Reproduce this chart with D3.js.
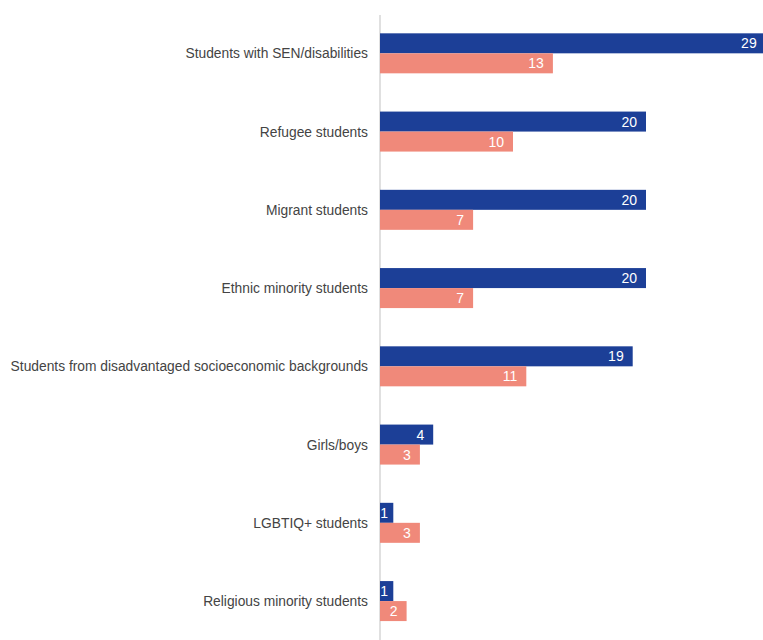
<!DOCTYPE html>
<html>
<head>
<meta charset="utf-8">
<script src="https://cdn.jsdelivr.net/npm/d3@7"></script>
<style>
  body { margin: 0; background: #ffffff; }
  #bar-chart-div { width: 763px; height: 640px; overflow: hidden; }
</style>
</head>
<body>
<div id="bar-chart-div"></div>
<script>
const categories = [
  'Students with SEN/disabilities',
  'Refugee students',
  'Migrant students',
  'Ethnic minority students',
  'Students from disadvantaged socioeconomic backgrounds',
  'Girls/boys',
  'LGBTIQ+ students',
  'Religious minority students'
];
const blueValues = [29, 20, 20, 20, 19, 4, 1, 1];
const salmonValues = [13, 10, 7, 7, 11, 3, 3, 2];

function createBarChart() {
  const width = 763;
  const height = 640;
  const barHeight = 20;

  const svg = d3.select('#bar-chart-div')
    .append('svg')
    .attr('width', width)
    .attr('height', height)
    .style('background-color', '#ffffff');

  // --- Scales ---
  const x = d3.scaleLinear()
    .domain([0, 30])
    .range([380, 779]);

  const y = d3.scaleBand()
    .domain(categories)
    .range([14.2, 640.2])
    .padding(0);

  const rows = categories.map((c, i) => ({
    name: c,
    blue: blueValues[i],
    salmon: salmonValues[i]
  }));

  // --- Axis line ---
  svg.append('line')
    .attr('x1', x(0)).attr('x2', x(0))
    .attr('y1', 15).attr('y2', height)
    .attr('stroke', '#d6d6d6')
    .attr('stroke-width', 1.5);

  const center = d => y(d.name) + y.bandwidth() / 2;

  // --- Bars ---
  const series = [
    { key: 'blue', color: '#1c3f97', offset: -barHeight },
    { key: 'salmon', color: '#f0897a', offset: 0 }
  ];

  series.forEach(s => {
    svg.selectAll(`.bar-${s.key}`)
      .data(rows)
      .enter().append('rect')
      .attr('class', `bar-${s.key}`)
      .attr('x', x(0))
      .attr('y', d => center(d) + s.offset)
      .attr('width', d => x(d[s.key]) - x(0))
      .attr('height', barHeight)
      .attr('fill', s.color);

    svg.selectAll(`.val-${s.key}`)
      .data(rows)
      .enter().append('text')
      .attr('class', `val-${s.key}`)
      .attr('x', d => Math.max(x(d[s.key]) - 9, x(0) + 8))
      .attr('y', d => center(d) + s.offset + barHeight / 2)
      .attr('dy', '0.36em')
      .attr('text-anchor', 'end')
      .style('font-family', 'Liberation Sans, Arial, sans-serif')
      .style('font-size', '14px')
      .style('fill', '#ffffff')
      .text(d => d[s.key]);
  });

  // --- Category labels ---
  svg.selectAll('.cat-label')
    .data(rows)
    .enter().append('text')
    .attr('class', 'cat-label')
    .attr('x', 368)
    .attr('y', d => center(d))
    .attr('dy', '0.36em')
    .attr('text-anchor', 'end')
    .style('font-family', 'Liberation Sans, Arial, sans-serif')
    .style('font-size', '13.8px')
    .style('fill', '#444444')
    .text(d => d.name);
}

createBarChart();
</script>
</body>
</html>
